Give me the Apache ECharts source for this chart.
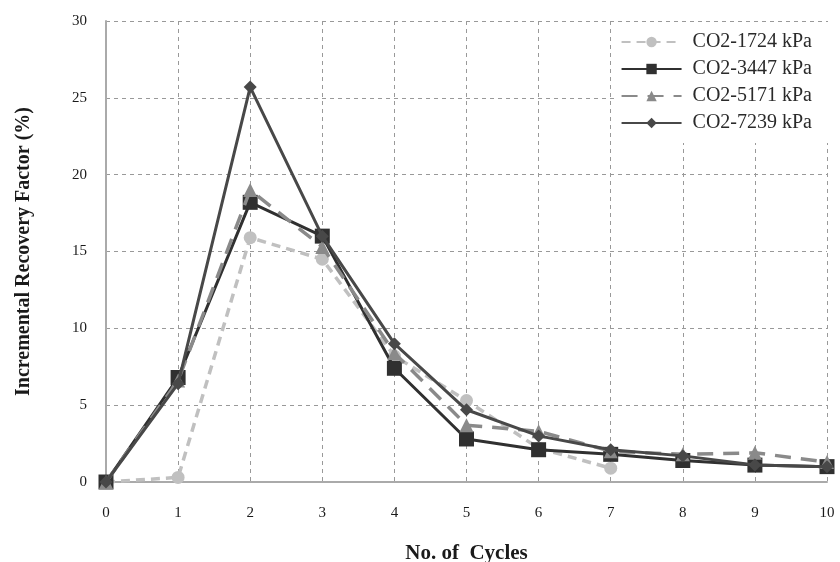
<!DOCTYPE html>
<html>
<head>
<meta charset="utf-8">
<script src="https://cdn.jsdelivr.net/npm/echarts@6/dist/echarts.min.js"></script>
<style>
  html, body { margin: 0; padding: 0; background: #fff; }
  #chart { width: 840px; height: 562px; }
</style>
</head>
<body>
<div id="chart"></div>
<script>
// Cycle numbers on the x axis
const cycles = [0, 1, 2, 3, 4, 5, 6, 7, 8, 9, 10];

// Incremental recovery factor (%) per cycle for each injection pressure
const co2_1724 = [0, 0.3, 15.9, 14.5, 8.2, 5.3, 2.2, 0.9];
const co2_3447 = [0, 6.8, 18.2, 16.0, 7.4, 2.8, 2.1, 1.8, 1.4, 1.1, 1.0];
const co2_5171 = [0, 6.6, 19.0, 15.3, 8.4, 3.7, 3.3, 2.0, 1.8, 1.9, 1.3];
const co2_7239 = [0, 6.4, 25.7, 16.0, 9.0, 4.7, 3.0, 2.1, 1.7, 1.1, 1.0];

const seriesNames = ['CO2-1724 kPa', 'CO2-3447 kPa', 'CO2-5171 kPa', 'CO2-7239 kPa'];

const serif = '"Liberation Serif", "DejaVu Serif", serif';

function pairs(vals) {
  return vals.map((v, i) => [cycles[i], v]);
}

const chart = echarts.init(document.getElementById('chart'));
chart.setOption({
  animation: false,
  backgroundColor: '#ffffff',
  grid: { left: 106, right: 13, top: 21, bottom: 80, outerBoundsMode: 'none' },
  legend: {
    orient: 'vertical',
    right: 12,
    top: 22,
    itemWidth: 60,
    itemHeight: 13,
    itemGap: 7,
    backgroundColor: '#ffffff',
    padding: [10, 16, 10, 6],
    textStyle: { fontFamily: serif, fontSize: 20, color: '#2a2a2a', padding: [0, 0, 0, 6] },
    data: seriesNames
  },
  xAxis: {
    type: 'value',
    min: 0, max: 10, interval: 1,
    name: 'No. of  Cycles',
    nameLocation: 'middle',
    nameGap: 61,
    nameTextStyle: { fontFamily: serif, fontSize: 21, fontWeight: 'bold', color: '#1a1a1a' },
    axisLine: { lineStyle: { color: '#aaaaaa', width: 2 } },
    axisTick: { show: false },
    axisLabel: { fontFamily: serif, fontSize: 15, color: '#1a1a1a', margin: 24 },
    splitLine: { show: true, lineStyle: { color: '#999', type: [4, 4], width: 1 } }
  },
  yAxis: {
    type: 'value',
    min: 0, max: 30, interval: 5,
    name: 'Incremental Recovery Factor (%)',
    nameLocation: 'middle',
    nameGap: 72,
    nameTextStyle: { fontFamily: serif, fontSize: 20, fontWeight: 'bold', color: '#1a1a1a' },
    axisLine: { show: true, lineStyle: { color: '#aaaaaa', width: 2 } },
    axisTick: { show: false },
    axisLabel: { fontFamily: serif, fontSize: 15, color: '#1a1a1a', margin: 19 },
    splitLine: { show: true, lineStyle: { color: '#999', type: [4, 4], width: 1 } }
  },
  series: [
    {
      name: seriesNames[0], type: 'line', data: pairs(co2_1724),
      symbol: 'circle', symbolSize: 13,
      lineStyle: { color: '#c0c0c0', width: 3.5, type: [9, 6] },
      itemStyle: { color: '#c0c0c0' },
      z: 2
    },
    {
      name: seriesNames[1], type: 'line', data: pairs(co2_3447),
      symbol: 'rect', symbolSize: 15,
      lineStyle: { color: '#303030', width: 3 },
      itemStyle: { color: '#303030' },
      z: 3
    },
    {
      name: seriesNames[2], type: 'line', data: pairs(co2_5171),
      symbol: 'triangle', symbolSize: 14,
      lineStyle: { color: '#8a8a8a', width: 3.5, type: [16, 10] },
      itemStyle: { color: '#8a8a8a' },
      z: 4
    },
    {
      name: seriesNames[3], type: 'line', data: pairs(co2_7239),
      symbol: 'diamond', symbolSize: 13,
      lineStyle: { color: '#484848', width: 3 },
      itemStyle: { color: '#484848' },
      z: 5
    }
  ]
});
</script>
</body>
</html>
